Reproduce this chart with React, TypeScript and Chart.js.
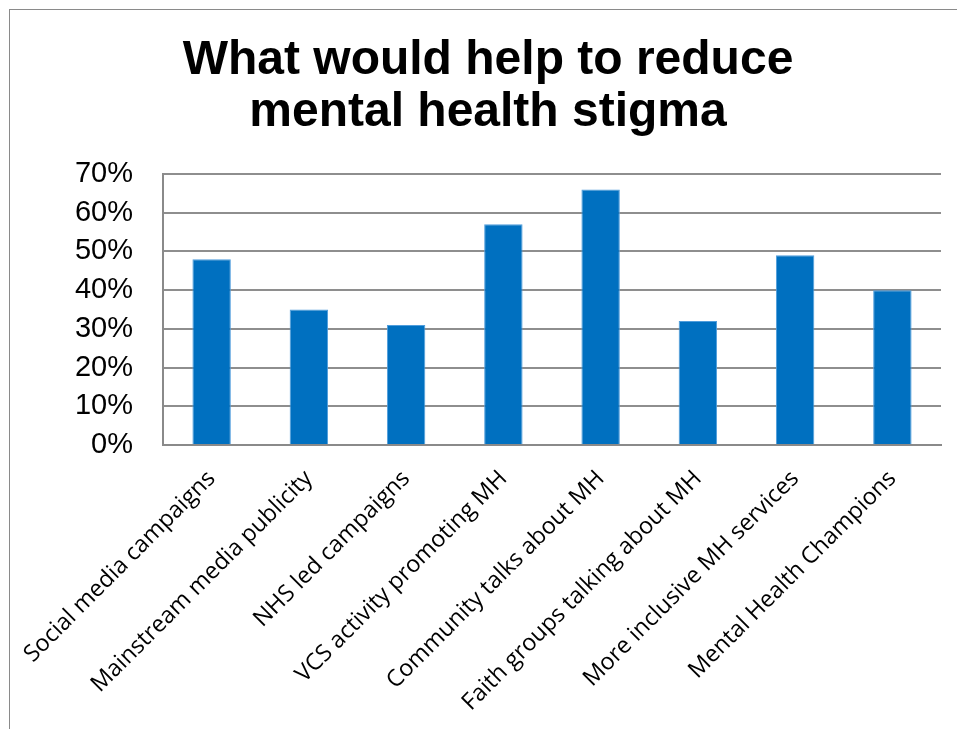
import React, { useEffect, useRef } from "react";
import { Chart, registerables } from "chart.js";

Chart.register(...registerables);

const titleLines = ["What would help to reduce", "mental health stigma"];

const categories = [
  "Social media campaigns",
  "Mainstream media publicity",
  "NHS led campaigns",
  "VCS activity promoting MH",
  "Community talks about MH",
  "Faith groups talking about MH",
  "More inclusive MH services",
  "Mental Health Champions",
];

const values = [48, 35, 31, 57, 66, 32, 49, 40];

const yMin = 0;
const yMax = 70;
const yStep = 10;

export default function App() {
  const ref = useRef<HTMLCanvasElement | null>(null);

  useEffect(() => {
    if (!ref.current) return;
    const chart = new Chart(ref.current, {
      type: "bar",
      data: {
        labels: categories,
        datasets: [
          {
            data: values,
            backgroundColor: "#0070C0",
            borderColor: "#4f9ddc",
            borderWidth: 1,
            categoryPercentage: 1,
            barPercentage: 0.395,
          },
        ],
      },
      options: {
        responsive: false,
        animation: false,
        layout: { padding: { left: 35, right: 16, top: 0, bottom: 0 } },
        plugins: {
          legend: { display: false },
          tooltip: { enabled: false },
          title: {
            display: true,
            text: titleLines,
            color: "#000000",
            font: {
              family: "'Liberation Sans', Arial, sans-serif",
              size: 48,
              weight: "bold",
              lineHeight: 52 / 48,
            },
            padding: { top: 35, bottom: 35 },
          },
        },
        scales: {
          x: {
            grid: { display: false, drawTicks: false },
            border: { display: true, color: "#8a8a8a", width: 2 },
            ticks: {
              autoSkip: false,
              minRotation: 45,
              maxRotation: 45,
              padding: 20,
              color: "#000000",
              font: { family: "'Open Sans', sans-serif", size: 23.3 },
            },
            afterFit: (scale: any) => {
              scale.height = 284;
              scale.paddingLeft = 0;
              scale.paddingRight = 0;
            },
          },
          y: {
            min: yMin,
            max: yMax,
            grid: { color: "#8e8e8e", lineWidth: 2, drawTicks: false },
            border: { display: true, color: "#8a8a8a", width: 2 },
            ticks: {
              stepSize: yStep,
              padding: 30,
              color: "#000000",
              font: { family: "'Liberation Sans', Arial, sans-serif", size: 29 },
              callback: (v: any) => v + "%",
            },
            afterFit: (scale: any) => {
              scale.width = 128;
              scale.paddingTop = 0;
              scale.paddingBottom = 0;
            },
          },
        },
      },
    });
    return () => chart.destroy();
  }, []);

  return (
    <div
      style={{
        position: "absolute",
        left: 0,
        top: 0,
        width: 957,
        height: 729,
        overflow: "hidden",
        background: "#ffffff",
      }}
    >
      <div
        style={{
          position: "absolute",
          left: 9,
          top: 9,
          right: 0,
          bottom: 0,
          borderLeft: "1px solid #8a8a8a",
          borderTop: "1px solid #8a8a8a",
        }}
      />
      <canvas
        ref={ref}
        width={957}
        height={729}
        style={{ position: "absolute", left: 0, top: 0, display: "block" }}
      />
    </div>
  );
}
